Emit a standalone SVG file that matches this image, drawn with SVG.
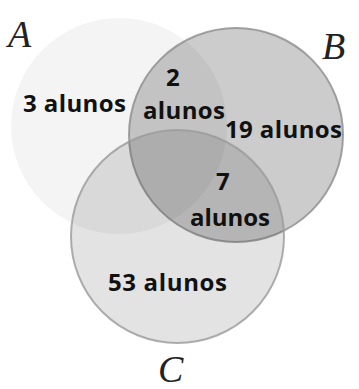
<svg xmlns="http://www.w3.org/2000/svg" width="359" height="389" viewBox="0 0 359 389">
  <style>
    .count { font-family: "Open Sans", "Liberation Sans", sans-serif; font-weight: bold; font-size: 24px; fill: #111; }
    .set { font-family: "Liberation Serif", serif; font-style: italic; font-size: 38px; fill: #222; }
  </style>
  <rect width="359" height="389" fill="#ffffff"/>
  <g id="set-A">
    <circle cx="119" cy="126" r="108" fill="#000" fill-opacity="0.045"/>
    <text class="set" x="8" y="47">A</text>
  </g>
  <g id="set-B">
    <circle cx="236" cy="135" r="107" fill="#000" fill-opacity="0.2" stroke="#8c8c8c" stroke-opacity="0.8" stroke-width="2"/>
    <text class="set" x="322" y="59">B</text>
  </g>
  <g id="set-C">
    <circle cx="177.5" cy="236.5" r="106.5" fill="#000" fill-opacity="0.11" stroke="#9a9a9a" stroke-opacity="0.8" stroke-width="2"/>
    <text class="set" x="158" y="382">C</text>
  </g>
  <g id="counts">
    <text class="count" x="23" y="112" textLength="103">3 alunos</text>
    <text class="count" x="166" y="86">2</text>
    <text class="count" x="143" y="119" textLength="82">alunos</text>
    <text class="count" x="225" y="138" textLength="117">19 alunos</text>
    <text class="count" x="216" y="190">7</text>
    <text class="count" x="190" y="226" textLength="80">alunos</text>
    <text class="count" x="108" y="291" textLength="119">53 alunos</text>
  </g>
</svg>
